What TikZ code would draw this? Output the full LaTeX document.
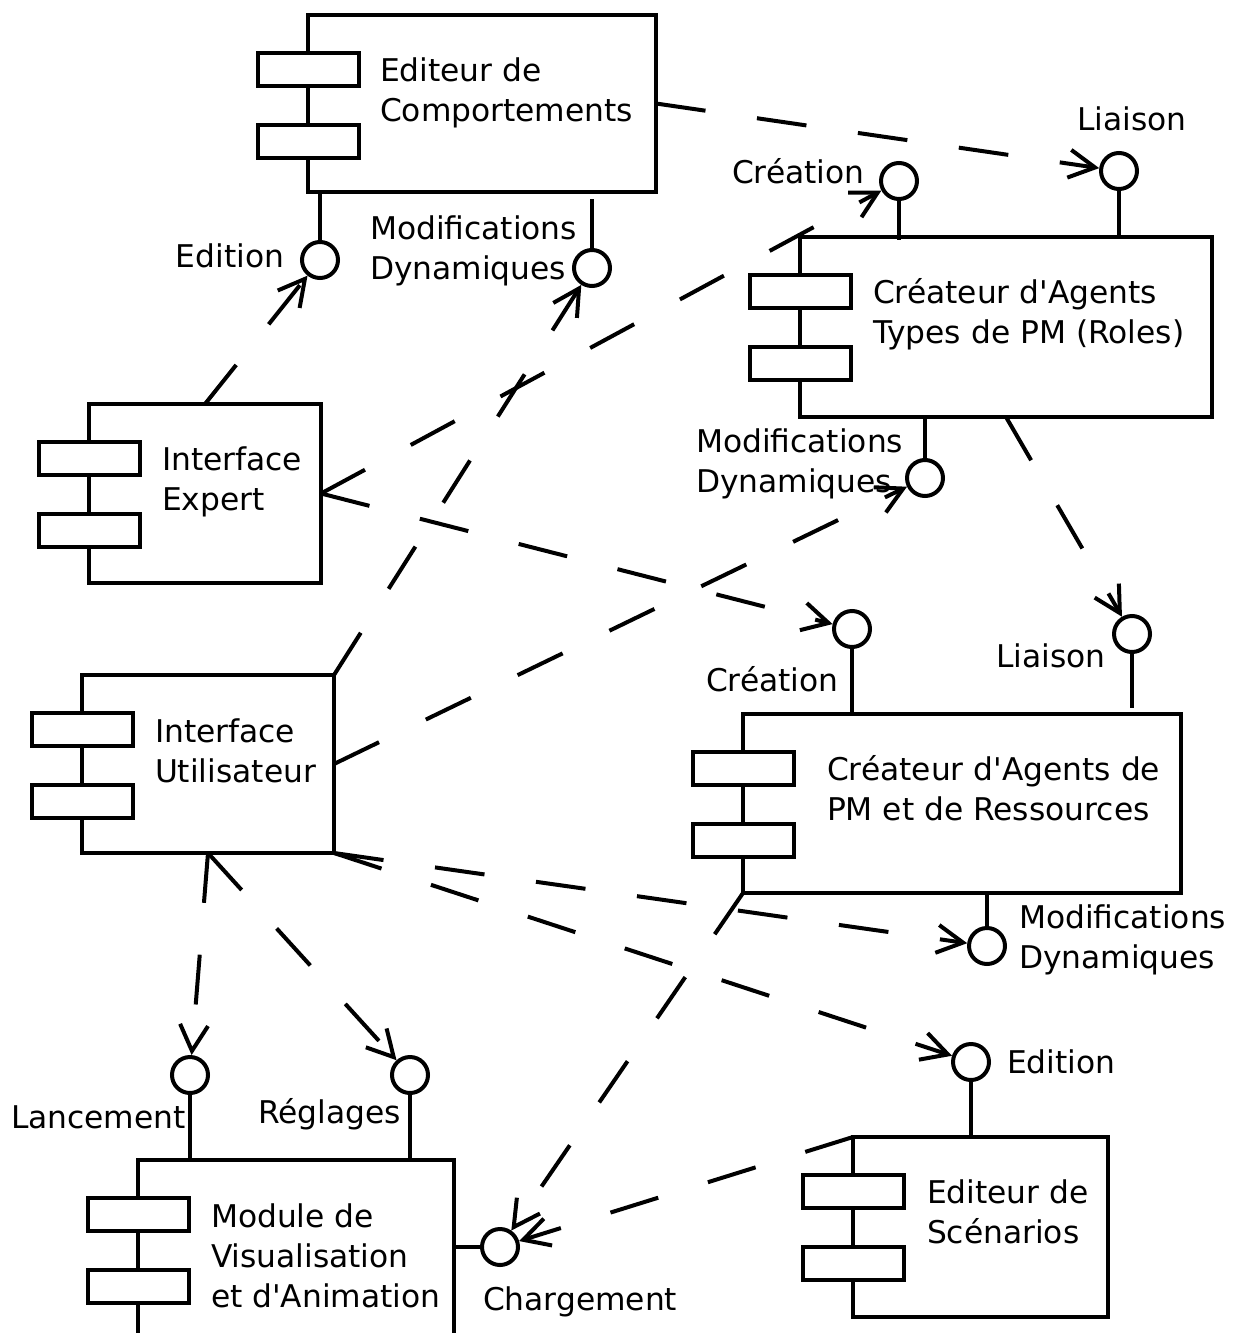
\documentclass[tikz,border=0pt]{standalone}
\usepackage{fontspec}
\setmainfont{DejaVu Sans}[Ligatures=TeXOff]
\usetikzlibrary{arrows.meta}

% a UML component: main box with the two small tabs on its left edge
\newcommand\umlcomp[5]{% name, left, top, width, height
  \node[compbox, minimum width=#4pt, minimum height=#5pt] (#1) at (#2,#3) {};
  \node[cpart] (#1-a) at ([yshift=-54pt]#1.north west) {};
  \node[cpart] (#1-b) at ([yshift=-126pt]#1.north west) {};
}

\begin{document}
\begin{tikzpicture}[x=1pt, y=-1pt, line width=4pt,
  compbox/.style={draw, rectangle, outer sep=0pt, inner sep=0pt, anchor=north west},
  cpart/.style={draw, fill=white, rectangle, outer sep=0pt, inner sep=0pt,
                minimum width=101pt, minimum height=33pt},
  iface/.style={draw, circle, inner sep=0pt, minimum size=36pt, fill=white},
  % multi-line texts are placed by the baseline of their last line
  txt/.style={font=\fontsize{31.3}{40}\selectfont, inner sep=0pt, anchor=base west, align=left},
  depend/.style={dash pattern=on 50pt off 52pt,
                 -{Straight Barb[length=26pt, width=28pt]}},
]
\useasboundingbox (0,0) rectangle (1235,1333);
\clip (0,0) rectangle (1235,1333);

% components
\umlcomp{ec}{308}{15}{348}{177}
\umlcomp{ct}{800}{237}{412}{180}
\umlcomp{ie}{89}{404}{232}{179}
\umlcomp{iu}{82}{675}{252}{178}
\umlcomp{cr}{743}{714}{438}{179}
\umlcomp{es}{853}{1137}{255}{180}
\umlcomp{mv}{138}{1160}{316}{180}

% provided interfaces
\node[iface] (ecEd) at (320,260) {};
\node[iface] (ecMd) at (592,268) {};
\node[iface] (ctCr) at (899,181) {};
\node[iface] (ctLi) at (1119,171) {};
\node[iface] (ctMd) at (925,478) {};
\node[iface] (crCr) at (852,629) {};
\node[iface] (crLi) at (1132,634) {};
\node[iface] (crMd) at (987,946) {};
\node[iface] (esEd) at (971,1062) {};
\node[iface] (mvLa) at (190,1075) {};
\node[iface] (mvRe) at (410,1075) {};
\node[iface] (mvCh) at (500,1247) {};

\coordinate (ecMdFoot) at (592,199);
\coordinate (ctCrFoot) at (899,240);
\coordinate (crLiFoot) at (1132,708);

% lollipop stems
\draw (ecEd) -- (ecEd |- ec.south);
\draw (ecMd) -- (ecMdFoot);
\draw (ctCr) -- (ctCrFoot);
\draw (ctLi) -- (ctLi |- ct.north);
\draw (ctMd) -- (ctMd |- ct.south);
\draw (crCr) -- (crCr |- cr.north);
\draw (crLi) -- (crLiFoot);
\draw (crMd) -- (crMd |- cr.south);
\draw (esEd) -- (esEd |- es.north);
\draw (mvLa) -- (mvLa |- mv.north);
\draw (mvRe) -- (mvRe |- mv.north);
\draw (mvCh) -- (mvCh -| mv.east);

% dependencies
\draw[depend] (ec.east) -- (ctLi);
\draw[depend] (ie.north) -- (ecEd);
\draw[depend] (iu.north east) -- (ecMd);
\draw[depend] (ie.east) -- (ctCr);
\draw[depend] (ie.east) -- (crCr);
\draw[depend] (iu.east) -- (ctMd);
\draw[depend] (iu.south) -- (mvLa);
\draw[depend] (iu.south) -- (mvRe);
\draw[depend] (iu.south east) -- (crMd);
\draw[depend] (iu.south east) -- (esEd);
\draw[depend] (ct.south) -- (crLi);
\draw[depend] (cr.south west) -- (mvCh);
\draw[depend] (es.north west) -- (mvCh);

% component names
\node[txt] (ecT) at (378,121) {Editeur de\\Comportements};
\node[txt] (ctT) at (871,343) {Créateur d'Agents\\Types de PM (Roles)};
\node[txt] (ieT) at (160,510) {Interface\\Expert};
\node[txt] (iuT) at (153,782) {Interface\\Utilisateur};
\node[txt] (crT) at (825,820) {Créateur d'Agents de\\PM et de Ressources};
\node[txt] (esT) at (925,1243) {Editeur de\\Scénarios};
\node[txt] (mvT) at (209,1307) {Module de\\Visualisation\\et d'Animation};

% interface names
\node[txt, anchor=base east] (ecEdL) at (286,267) {Edition};
\node[txt] (ecMdL) at (368,279) {Modifications\\Dynamiques};
\node[txt] (ctCrL) at (730,183) {Création};
\node[txt] (ctLiL) at (1075,130) {Liaison};
\node[txt] (ctMdL) at (694,492) {Modifications\\Dynamiques};
\node[txt] (crCrL) at (704,691) {Création};
\node[txt] (crLiL) at (994,667) {Liaison};
\node[txt] (crMdL) at (1017,968) {Modifications\\Dynamiques};
\node[txt] (esEdL) at (1005,1073) {Edition};
\node[txt] (mvLaL) at (9,1128) {Lancement};
\node[txt] (mvReL) at (256,1123) {Réglages};
\node[txt] (mvChL) at (481,1310) {Chargement};
\end{tikzpicture}
\end{document}
